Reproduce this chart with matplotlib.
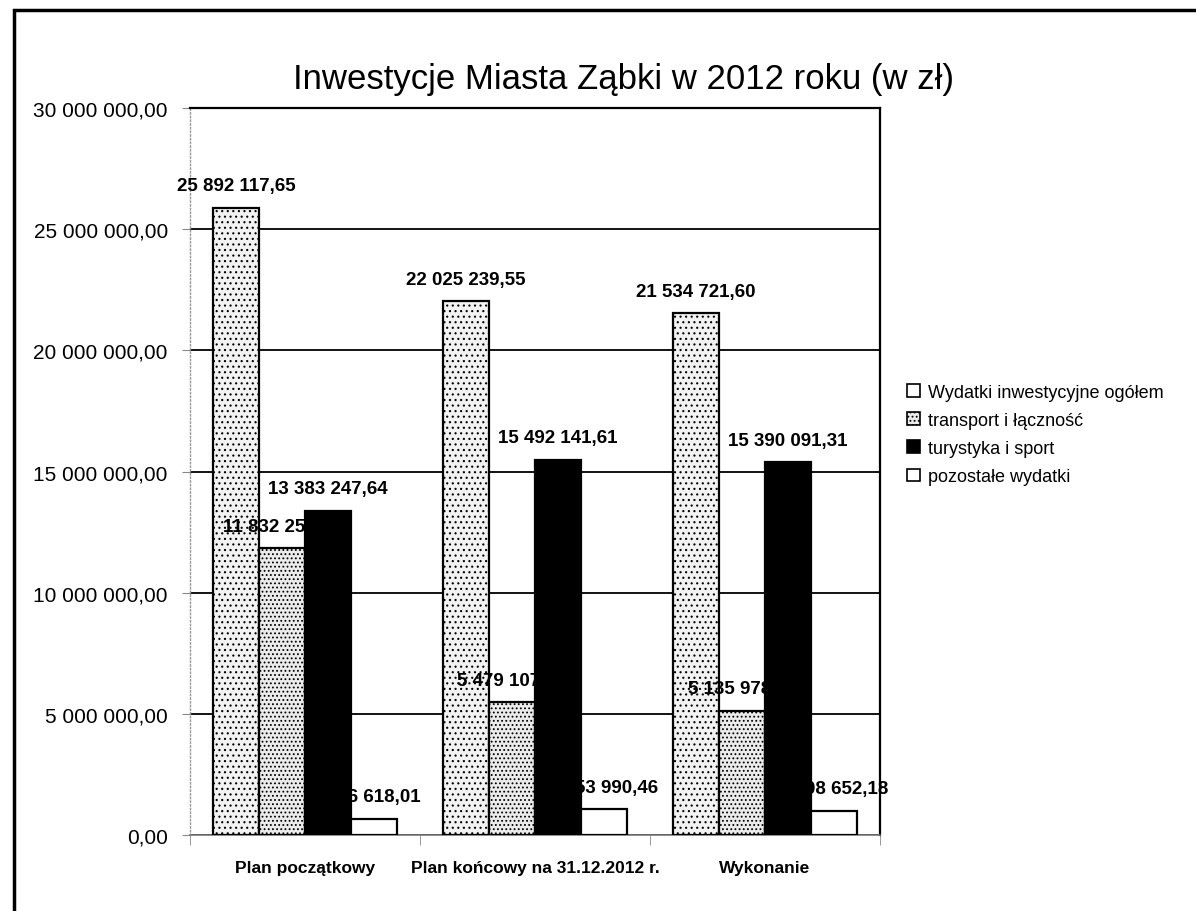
import matplotlib
matplotlib.use('Agg')
import matplotlib.pyplot as plt
import numpy as np
from matplotlib.patches import Rectangle, Patch
from matplotlib.ticker import FuncFormatter

plt.rcParams['font.family'] = ['Liberation Sans', 'DejaVu Sans']
plt.rcParams['hatch.color'] = '#a8a8a8'
plt.rcParams['hatch.linewidth'] = 0.8

# data
categories = ['Plan początkowy', 'Plan końcowy na 31.12.2012 r.', 'Wykonanie']
series_names = ['Wydatki inwestycyjne ogółem', 'transport i łączność',
                'turystyka i sport', 'pozostałe wydatki']
ogolem = [25892117.65, 22025239.55, 21534721.60]
transport = [11832252.00, 5479107.48, 5135978.11]
turystyka = [13383247.64, 15492141.61, 15390091.31]
pozostale = [676618.01, 1053990.46, 1008652.18]
y_ticks = [0, 5e6, 10e6, 15e6, 20e6, 25e6, 30e6]


def pl_fmt(v, pos=None):
    s = f"{v:,.2f}"
    return s.replace(',', ' ').replace('.', ',')


fig = plt.figure(figsize=(11.96, 9.12), dpi=100)
ax = fig.add_axes([0.1589, 0.0833, 0.5769, 0.7972])

x = np.arange(len(categories))
w = 0.2
styles = [
    dict(facecolor='#f2f2f2', hatch='...'),
    dict(facecolor='#ebebeb', hatch='....'),
    dict(facecolor='black'),
    dict(facecolor='white'),
]
all_vals = [ogolem, transport, turystyka, pozostale]
offsets = [-1.5 * w, -0.5 * w, 0.5 * w, 1.5 * w]

bars = []
for vals, off, st in zip(all_vals, offsets, styles):
    b = ax.bar(x + off, vals, width=w, edgecolor='black', linewidth=1.6,
               zorder=3, **st)
    bars.append(b)

# value labels (black text disappears on the black bars, as in the original)
for b, vals in zip(bars, all_vals):
    for rect, v in zip(b, vals):
        ax.annotate(pl_fmt(v), (rect.get_x() + rect.get_width() / 2, v),
                    xytext=(0, 22), textcoords='offset pixels',
                    ha='center', va='center', fontsize=13.5,
                    fontweight='bold', zorder=4)

ax.set_xlim(-0.5, 2.5)
ax.set_ylim(0, 30e6)
ax.set_yticks(y_ticks)
ax.yaxis.set_major_formatter(FuncFormatter(pl_fmt))
ax.yaxis.grid(True, color='black', linewidth=1.3, zorder=0)
ax.set_axisbelow(True)

ax.set_xticks(x)
ax.set_xticklabels(categories, fontsize=12.5, fontweight='bold')
ax.set_xticks([-0.5, 0.5, 1.5, 2.5], minor=True)
ax.tick_params(axis='x', which='major', length=0, pad=18)
ax.tick_params(axis='x', which='minor', length=7, color='#888888')
ax.tick_params(axis='y', labelsize=15, length=6, color='#888888', pad=10)

ax.spines['left'].set_color('#999999')
ax.spines['left'].set_linestyle(':')
ax.spines['left'].set_linewidth(1.0)
ax.spines['right'].set_linewidth(1.6)
ax.spines['top'].set_linewidth(1.6)
ax.spines['bottom'].set_color('#777777')
ax.spines['bottom'].set_linewidth(1.2)

fig.text(0.521, 0.913, 'Inwestycje Miasta Ząbki w 2012 roku (w zł)',
         ha='center', va='center', fontsize=25)

handles = [Patch(edgecolor='black', linewidth=1.2, facecolor='white'),
           Patch(edgecolor='black', linewidth=1.2, **styles[1]),
           Patch(edgecolor='black', linewidth=1.2, **styles[2]),
           Patch(edgecolor='black', linewidth=1.2, **styles[3])]
fig.legend(handles, series_names, loc='upper left',
           bbox_to_anchor=(0.745, 0.596), frameon=False, fontsize=13,
           handlelength=0.7, handleheight=0.7, handletextpad=0.45,
           labelspacing=0.62)

# outer chart border
fig.patches.append(Rectangle((0.0115, -0.05), 1.1, 1.038,
                             transform=fig.transFigure, fill=False,
                             edgecolor='black', linewidth=2.5))

fig.savefig('out.png', dpi=100)
